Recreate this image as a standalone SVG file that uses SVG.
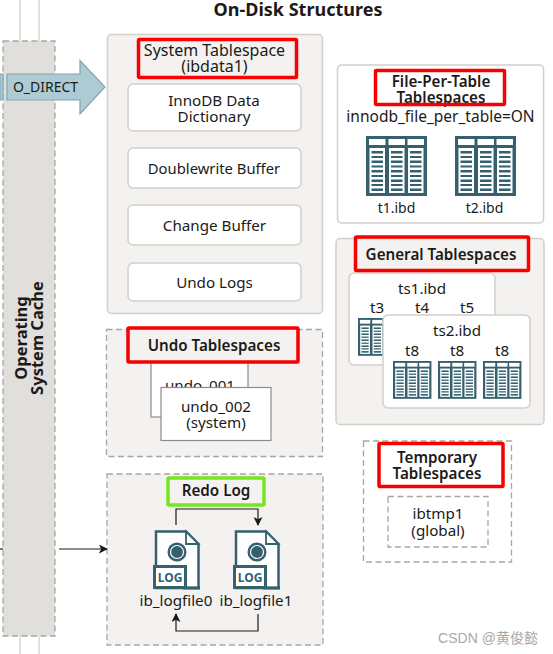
<svg xmlns="http://www.w3.org/2000/svg" width="553" height="654" viewBox="0 0 553 654">
<style>
text{font-family:"Noto Sans","Open Sans","Liberation Sans",sans-serif;font-size:15.2px;fill:#1c1a18;text-anchor:middle}
.b{font-weight:600}
.panel{fill:#f3f2f0;stroke:#d3d0ca;stroke-width:1.5}
.white{fill:#fff;stroke:#d3d0ca;stroke-width:1.5}
.dash{fill:#f3f2f0;stroke:#a9a6a0;stroke-width:1.3;stroke-dasharray:6 3.5}
.red{fill:none;stroke:#f60000;stroke-width:3.5}
.green{fill:none;stroke:#76e61e;stroke-width:3.5}
.conn{fill:none;stroke:#1c1a18;stroke-width:1.2}
.sq{fill:#fff;stroke:#8f8c87;stroke-width:1.2}
</style>
<defs>
<marker id="ah" viewBox="0 0 10 10" refX="9" refY="5" markerWidth="9" markerHeight="9" markerUnits="userSpaceOnUse" orient="auto"><path d="M0 0L10 5L0 10L2.500 5Z" fill="#1c1a18"/></marker>
<g id="col"><rect x="0" y="0" width="16.500" height="6" fill="#fff"/><rect x="0.500" y="9" width="15.500" height="45" fill="#fff"/><g fill="#34606f"><rect x="2.500" y="12" width="11.500" height="2.500"/><rect x="2.500" y="17" width="11.500" height="2"/><rect x="2.500" y="21.500" width="11.500" height="2.500"/><rect x="2.500" y="26.500" width="11.500" height="2"/><rect x="2.500" y="31" width="11.500" height="2.500"/><rect x="2.500" y="36" width="11.500" height="2"/><rect x="2.500" y="40.500" width="11.500" height="2.500"/><rect x="2.500" y="45" width="11.500" height="2"/><rect x="2.500" y="49.500" width="11.500" height="2.500"/></g></g>
<g id="tbl"><rect x="0" y="0" width="61" height="60" fill="#34606f"/><use href="#col" x="3" y="3"/><use href="#col" x="22.500" y="3"/><use href="#col" x="41.500" y="3"/></g>
<g id="log"><path d="M3 1.500H33L45.500 14V58H3Z" fill="#fff" stroke="#34606f" stroke-width="2.500"/><path d="M33 1.500V14H45.500Z" fill="#fff" stroke="#34606f" stroke-width="1.800"/><circle cx="24" cy="22" r="9.500" fill="#34606f"/><circle cx="24" cy="22" r="6.500" fill="none" stroke="#fff" stroke-width="1.200"/><path d="M24 16V22L28.500 26" stroke="#34606f" stroke-width="2.500" fill="none"/><rect x="1.500" y="36.500" width="31" height="21" fill="#fff" stroke="#34606f" stroke-width="3"/><rect x="30" y="56.500" width="17" height="3" fill="#34606f"/><text x="17" y="52" style="font-size:12px;font-weight:700;fill:#34606f">LOG</text></g>
</defs>
<rect width="553" height="654" fill="#fff"/>
<text class="b" x="298" y="16" style="font-size:18px;font-weight:700">On-Disk Structures</text>
<g id="os-cache">
<path d="M20 0V41M39 0V41M20 636V654M39 636V654" stroke="#d3d0ca" stroke-width="1.300" fill="none"/>
<rect x="3" y="41" width="52" height="595" fill="#e0dfdc" stroke="#a9a6a0" stroke-width="1.300" stroke-dasharray="6 3.500"/>
<text transform="translate(0,338) rotate(-90)" style="font-size:16.500px;font-weight:700"><tspan x="0" y="27">Operating</tspan><tspan x="0" y="43">System Cache</tspan></text>
</g>
<g id="o-direct">
<rect x="0" y="74" width="3" height="26" fill="#aecbd3" stroke="#7fa6b1"/>
<path d="M7 74H80V60.500L105 87L80 114V100H7Z" fill="#aecbd3" stroke="#7fa6b1" stroke-width="1.200"/>
<text x="45.500" y="92" style="font-size:14px">O_DIRECT</text>
</g>
<g id="system-tablespace">
<rect class="panel" x="107.500" y="34.500" width="215" height="279" rx="4"/>
<rect class="white" x="128" y="84" width="173" height="47" rx="5"/>
<rect class="white" x="128" y="148" width="173" height="40" rx="5"/>
<rect class="white" x="128" y="205" width="173" height="40" rx="5"/>
<rect class="white" x="128" y="263" width="173" height="38" rx="5"/>
<rect class="red" x="138.500" y="39.500" width="158" height="38" rx="1"/>
<text style="font-size:16px"><tspan x="214.500" y="56">System Tablespace</tspan><tspan x="214.500" y="72">(ibdata1)</tspan></text>
<text><tspan x="214" y="106">InnoDB Data</tspan><tspan x="214" y="122">Dictionary</tspan></text>
<text style="font-size:14.800px" x="214" y="174">Doublewrite Buffer</text>
<text x="214.500" y="231">Change Buffer</text>
<text x="214.500" y="288">Undo Logs</text>
</g>
<g id="file-per-table">
<rect x="337.500" y="65" width="206" height="158" rx="4" fill="#fff" stroke="#d3d0ca" stroke-width="1.500"/>
<text class="b"><tspan x="441" y="87">File-Per-Table</tspan><tspan x="441" y="103">Tablespaces</tspan></text>
<rect class="red" x="375.500" y="70.500" width="129" height="34" rx="1"/>
<text x="440.500" y="122" style="font-size:15.500px">innodb_file_per_table=ON</text>
<use href="#tbl" x="366" y="136"/>
<use href="#tbl" x="455" y="136"/>
<text x="396.500" y="213" style="font-size:14px">t1.ibd</text>
<text x="484.500" y="213" style="font-size:14px">t2.ibd</text>
</g>
<g id="general-tablespaces">
<rect class="panel" x="336" y="238.500" width="208" height="186" rx="4"/>
<rect class="white" x="349" y="273" width="146" height="92" rx="5"/>
<text x="422" y="294">ts1.ibd</text>
<text x="377" y="313">t3</text>
<text x="422" y="313">t4</text>
<text x="467" y="313">t5</text>
<use href="#tbl" transform="translate(358,318) scale(.63)"/>
<rect class="white" x="383" y="315" width="147" height="93" rx="5"/>
<text x="457" y="336">ts2.ibd</text>
<text x="412" y="356">t8</text>
<text x="457" y="356">t8</text>
<text x="502" y="356">t8</text>
<use href="#tbl" transform="translate(393,361) scale(.63)"/>
<use href="#tbl" transform="translate(438,361) scale(.63)"/>
<use href="#tbl" transform="translate(483,361) scale(.63)"/>
<rect class="red" x="355.500" y="237" width="173" height="33.500" rx="1"/>
<text class="b" x="441" y="260">General Tablespaces</text>
</g>
<g id="undo-tablespaces">
<rect class="dash" x="106.500" y="329.500" width="216" height="127"/>
<rect class="sq" x="151" y="360" width="97" height="57"/>
<text x="200" y="391">undo_001</text>
<rect class="sq" x="161" y="387.500" width="110" height="53"/>
<text><tspan x="216" y="412">undo_002</tspan><tspan x="216" y="428">(system)</tspan></text>
<rect x="128" y="328" width="170" height="34" fill="#f3f2f0" stroke="#f60000" stroke-width="3.500" rx="1"/>
<text class="b" x="214" y="351">Undo Tablespaces</text>
</g>
<g id="redo-log">
<rect class="dash" x="107" y="474" width="216" height="171"/>
<rect class="green" x="168" y="478" width="96" height="27" rx="1"/>
<text class="b" x="216" y="496">Redo Log</text>
<use href="#log" x="153" y="530"/>
<use href="#log" x="233" y="530"/>
<text x="176" y="606">ib_logfile0</text>
<text x="256" y="606">ib_logfile1</text>
</g>
<g id="temporary-tablespaces">
<rect x="363.500" y="441" width="148" height="121" fill="#fff" stroke="#a9a6a0" stroke-width="1.300" stroke-dasharray="6 3.500"/>
<rect class="red" x="379" y="443.500" width="124" height="43" rx="1"/>
<text class="b"><tspan x="437" y="463">Temporary</tspan><tspan x="437" y="479">Tablespaces</tspan></text>
<rect x="388" y="496.500" width="100" height="50.500" fill="#fff" stroke="#a9a6a0" stroke-width="1.300" stroke-dasharray="6 3.500"/>
<text><tspan x="438" y="519">ibtmp1</tspan><tspan x="438" y="536">(global)</tspan></text>
</g>
<g id="connectors">
<path class="conn" d="M176 525V509H258V525" marker-end="url(#ah)"/>
<path class="conn" d="M258 614V631H176V614" marker-end="url(#ah)"/>
<path class="conn" d="M59 549H107" marker-end="url(#ah)"/>
<path class="conn" d="M0 549H3"/>
</g>
<text x="488" y="643" style="font-size:14px;fill:#a8a8a8;font-family:'Liberation Sans','Noto Sans CJK SC',sans-serif">CSDN @黄俊懿</text>
</svg>
